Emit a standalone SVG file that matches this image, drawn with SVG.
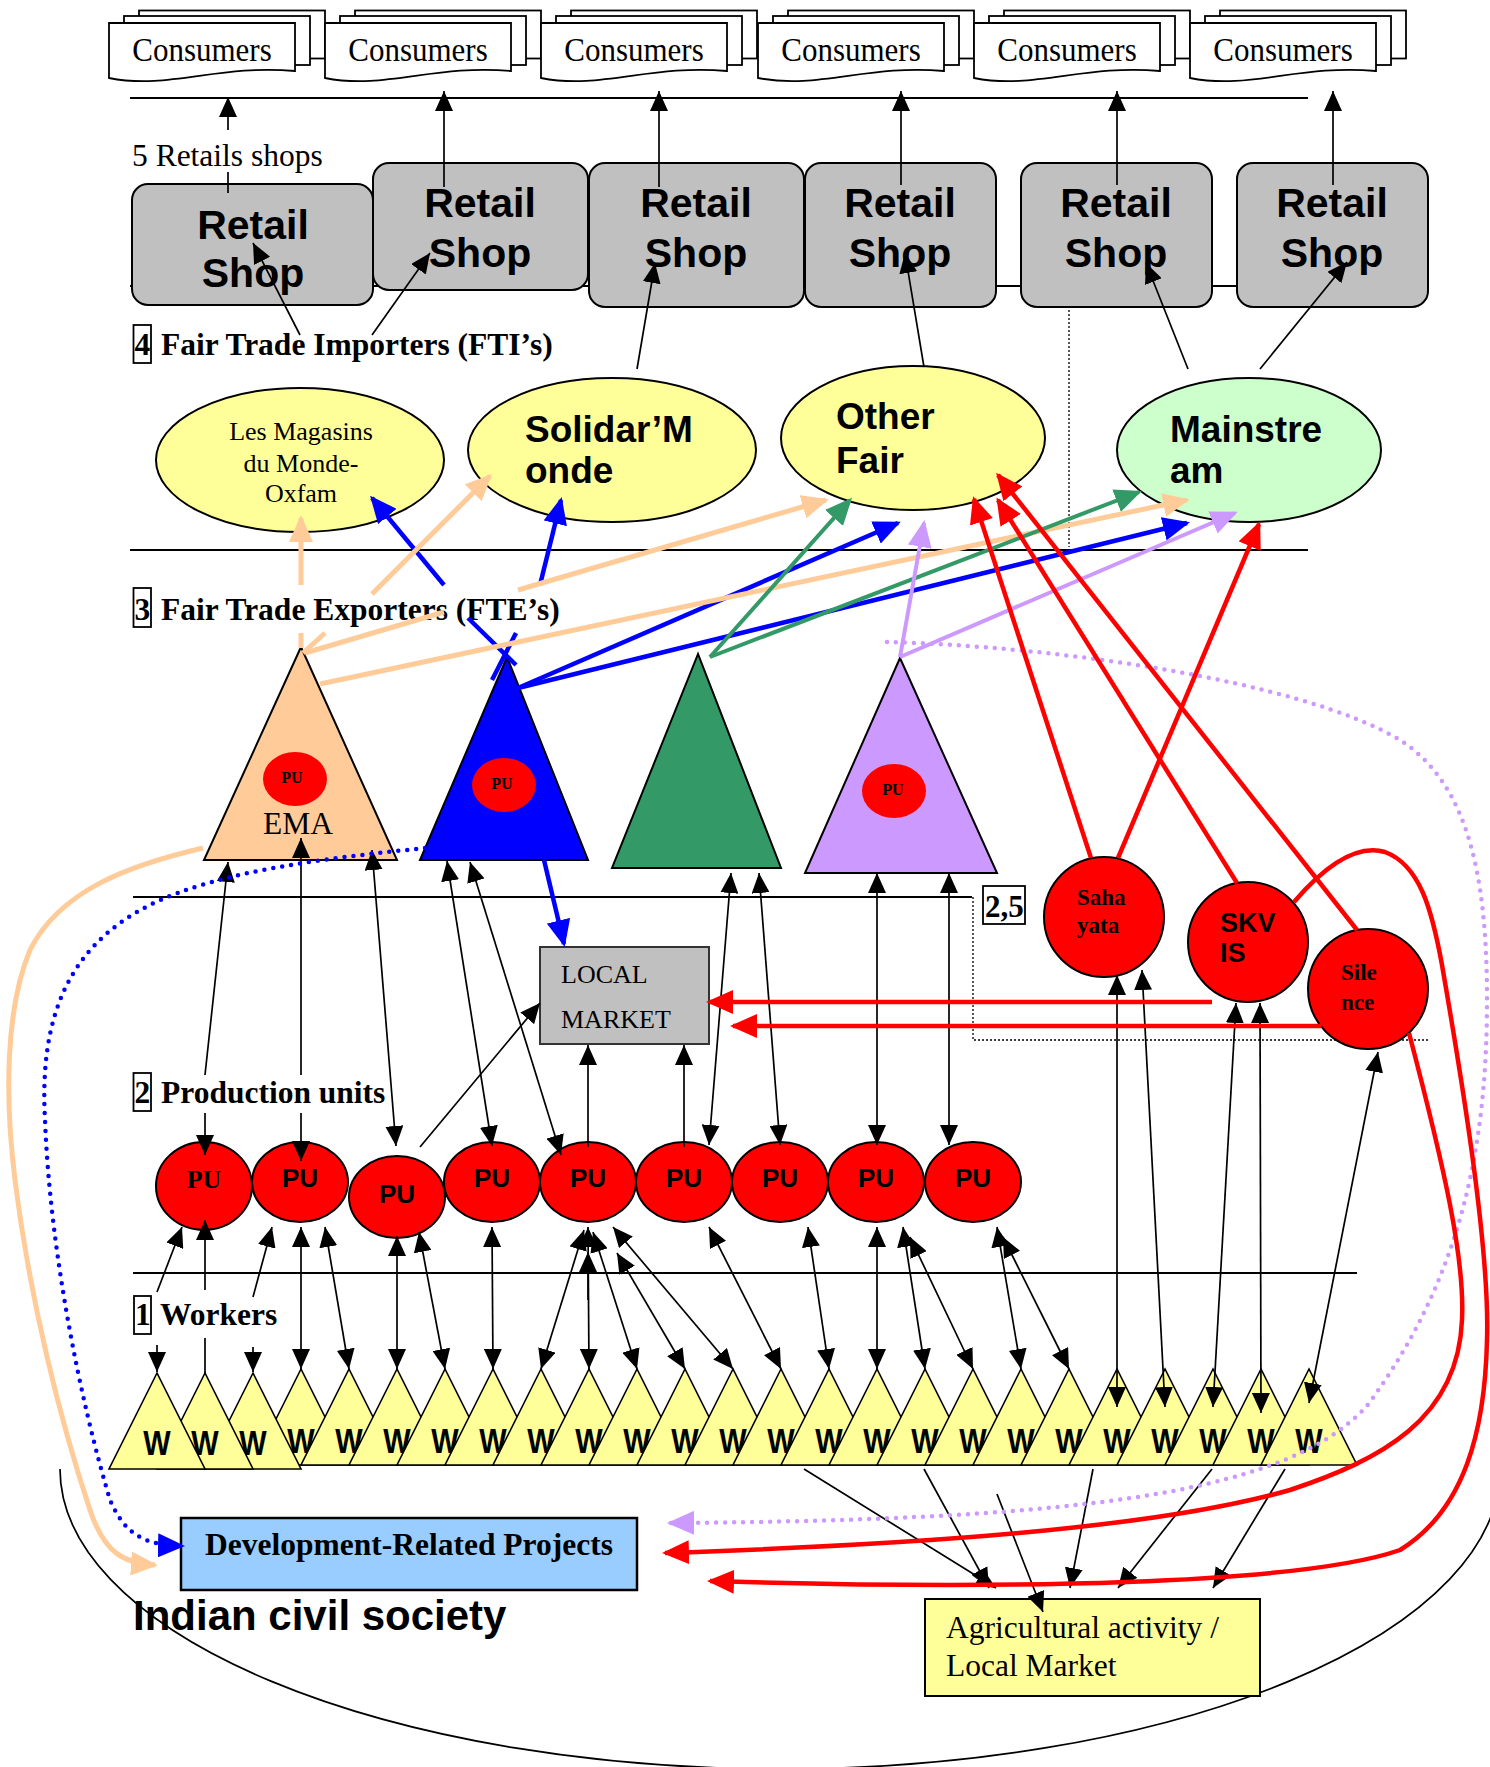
<svg xmlns="http://www.w3.org/2000/svg" width="1490" height="1767" viewBox="0 0 1490 1767">
<style>
.sep{stroke:#000;stroke-width:2;fill:none}
.dl{stroke:#000;stroke-width:1.3;stroke-dasharray:2 2;fill:none}
.ln{stroke:#000;stroke-width:1.7;fill:none}
.b{stroke:#0000ff;stroke-width:4.5;fill:none}
.p{stroke:#ffcc99;stroke-width:5;fill:none}
.g{stroke:#339966;stroke-width:4;fill:none}
.v{stroke:#cc99ff;stroke-width:4;fill:none}
.r{stroke:#ff0000;stroke-width:4.5;fill:none}
.bd{stroke:#0000ff;stroke-width:4.5;fill:none;stroke-dasharray:0 9;stroke-linecap:round}
.vd{stroke:#cc99ff;stroke-width:4.5;fill:none;stroke-dasharray:0 9;stroke-linecap:round}
.se{font-family:"Liberation Serif","Times New Roman",serif;fill:#000}
.sb{font-family:"Liberation Serif","Times New Roman",serif;font-weight:bold;fill:#000}
.sa{font-family:"Liberation Sans",Arial,sans-serif;font-weight:bold;fill:#000}
.doc{fill:#fff;stroke:#000;stroke-width:1.8}
.shop{fill:#c0c0c0;stroke:#000;stroke-width:2}
.pu{fill:#ff0000;stroke:#000;stroke-width:2}
.w{fill:#ffff99;stroke:#000;stroke-width:1.6}
.wt{font-family:"Liberation Sans",Arial,sans-serif;font-weight:bold;fill:#000;font-size:29px;text-anchor:middle}
.lbl{fill:#fff;stroke:#000;stroke-width:1.8}
.fti{fill:#ffff99;stroke:#000;stroke-width:2}
</style>
<defs>
<marker id="a" viewBox="0 0 20 18" refX="20" refY="9" markerWidth="20" markerHeight="18" markerUnits="userSpaceOnUse" orient="auto-start-reverse"><path d="M0,0L20,9L0,18z" fill="#000"/></marker>
<marker id="mb" viewBox="0 0 27 24" refX="24" refY="12" markerWidth="27" markerHeight="24" markerUnits="userSpaceOnUse" orient="auto"><path d="M0,0L27,12L0,24z" fill="#0000ff"/></marker>
<marker id="mp" viewBox="0 0 27 24" refX="24" refY="12" markerWidth="27" markerHeight="24" markerUnits="userSpaceOnUse" orient="auto"><path d="M0,0L27,12L0,24z" fill="#ffcc99"/></marker>
<marker id="mg" viewBox="0 0 27 24" refX="24" refY="12" markerWidth="27" markerHeight="24" markerUnits="userSpaceOnUse" orient="auto"><path d="M0,0L27,12L0,24z" fill="#339966"/></marker>
<marker id="mv" viewBox="0 0 27 24" refX="24" refY="12" markerWidth="27" markerHeight="24" markerUnits="userSpaceOnUse" orient="auto"><path d="M0,0L27,12L0,24z" fill="#cc99ff"/></marker>
<marker id="mr" viewBox="0 0 27 24" refX="24" refY="12" markerWidth="27" markerHeight="24" markerUnits="userSpaceOnUse" orient="auto"><path d="M0,0L27,12L0,24z" fill="#ff0000"/></marker>
<g id="docshape">
<rect x="30" y="10.5" width="186" height="48" class="doc"/>
<rect x="15" y="16" width="186" height="49" class="doc"/>
<path d="M0,23H186V71C110,64 60,90 0,78Z" class="doc"/>
</g>
</defs>
<rect width="1490" height="1767" fill="#fff"/>

<g id="separators">
<line x1="130" y1="98" x2="1308" y2="98" class="sep"/>
<line x1="130" y1="286" x2="1237" y2="286" class="sep"/>
<line x1="130" y1="550" x2="1308" y2="550" class="sep"/>
<line x1="133" y1="897" x2="972" y2="897" class="sep"/>
<line x1="133" y1="1273" x2="1357" y2="1273" class="sep"/>
<line x1="1069" y1="282" x2="1069" y2="547" class="dl"/>
<polyline points="973,897 973,1040 1428,1040" class="dl"/>
<path d="M60,1469 A720,300 0 0 0 1500,1469" class="ln" stroke-width="1.5"/>
</g>

<g id="consumers-1" transform="translate(109,0)"><use href="#docshape"/><text transform="translate(93,61) scale(1,1.12)" text-anchor="middle" class="se" font-size="31">Consumers</text></g>
<g id="consumers-2" transform="translate(325,0)"><use href="#docshape"/><text transform="translate(93,61) scale(1,1.12)" text-anchor="middle" class="se" font-size="31">Consumers</text></g>
<g id="consumers-3" transform="translate(541,0)"><use href="#docshape"/><text transform="translate(93,61) scale(1,1.12)" text-anchor="middle" class="se" font-size="31">Consumers</text></g>
<g id="consumers-4" transform="translate(758,0)"><use href="#docshape"/><text transform="translate(93,61) scale(1,1.12)" text-anchor="middle" class="se" font-size="31">Consumers</text></g>
<g id="consumers-5" transform="translate(974,0)"><use href="#docshape"/><text transform="translate(93,61) scale(1,1.12)" text-anchor="middle" class="se" font-size="31">Consumers</text></g>
<g id="consumers-6" transform="translate(1190,0)"><use href="#docshape"/><text transform="translate(93,61) scale(1,1.12)" text-anchor="middle" class="se" font-size="31">Consumers</text></g>

<g id="retail-1"><rect x="132" y="184" width="241" height="121" rx="16" class="shop"/><text x="253" y="239" text-anchor="middle" class="sa" font-size="41">Retail</text><text x="253" y="287" text-anchor="middle" class="sa" font-size="41">Shop</text></g>
<g id="retail-2"><rect x="373" y="163" width="215" height="127" rx="16" class="shop"/><text x="480" y="217" text-anchor="middle" class="sa" font-size="41">Retail</text><text x="480" y="267" text-anchor="middle" class="sa" font-size="41">Shop</text></g>
<g id="retail-3"><rect x="589" y="163" width="215" height="144" rx="16" class="shop"/><text x="696" y="217" text-anchor="middle" class="sa" font-size="41">Retail</text><text x="696" y="267" text-anchor="middle" class="sa" font-size="41">Shop</text></g>
<g id="retail-4"><rect x="805" y="163" width="191" height="144" rx="16" class="shop"/><text x="900" y="217" text-anchor="middle" class="sa" font-size="41">Retail</text><text x="900" y="267" text-anchor="middle" class="sa" font-size="41">Shop</text></g>
<g id="retail-5"><rect x="1021" y="163" width="191" height="144" rx="16" class="shop"/><text x="1116" y="217" text-anchor="middle" class="sa" font-size="41">Retail</text><text x="1116" y="267" text-anchor="middle" class="sa" font-size="41">Shop</text></g>
<g id="retail-6"><rect x="1237" y="163" width="191" height="144" rx="16" class="shop"/><text x="1332" y="217" text-anchor="middle" class="sa" font-size="41">Retail</text><text x="1332" y="267" text-anchor="middle" class="sa" font-size="41">Shop</text></g>

<g id="labels">
<text x="132" y="166" class="se" font-size="31.5">5 Retails shops</text>
<rect x="133.5" y="325" width="17.5" height="38" class="lbl"/><text x="134.5" y="355" class="sb" font-size="31.5">4</text><text x="161" y="355" class="sb" font-size="31.5">Fair Trade Importers (FTI’s)</text>
<rect x="133.5" y="588" width="17.5" height="39" class="lbl"/><text x="134.5" y="620" class="sb" font-size="31.5">3</text><text x="161" y="620" class="sb" font-size="31.5">Fair Trade Exporters (FTE’s)</text>
<rect x="133.5" y="1073" width="17.5" height="38" class="lbl"/><text x="134.5" y="1103" class="sb" font-size="31.5">2</text><text x="161" y="1103" class="sb" font-size="31.5">Production units</text>
<rect x="134" y="1296" width="17" height="38" class="lbl"/><text x="135" y="1325" class="sb" font-size="31.5">1</text><text x="160" y="1325" class="sb" font-size="31.5">Workers</text>
<rect x="983" y="886" width="42" height="38" class="lbl"/><text x="985" y="917" class="sb" font-size="31">2,5</text>
<text x="133" y="1630" class="sa" font-size="42">Indian civil society</text>
</g>

<g id="fti-magasins"><ellipse cx="300" cy="460" rx="144" ry="72" class="fti"/><text x="301" y="440" text-anchor="middle" class="se" font-size="26">Les Magasins</text><text x="301" y="472" text-anchor="middle" class="se" font-size="26">du Monde-</text><text x="301" y="502" text-anchor="middle" class="se" font-size="26">Oxfam</text></g>
<g id="fti-solidar"><ellipse cx="612" cy="450" rx="144" ry="72" class="fti"/><text x="525" y="442" class="sa" font-size="37">Solidar’M</text><text x="525" y="483" class="sa" font-size="37">onde</text></g>
<g id="fti-otherfair"><ellipse cx="913" cy="438" rx="132" ry="72" class="fti"/><text x="836" y="429" class="sa" font-size="37">Other</text><text x="836" y="473" class="sa" font-size="37">Fair</text></g>
<g id="fti-mainstream"><ellipse cx="1249" cy="450" rx="132" ry="72" fill="#ccffcc" stroke="#000" stroke-width="2"/><text x="1170" y="442" class="sa" font-size="37">Mainstre</text><text x="1170" y="483" class="sa" font-size="37">am</text></g>

<g id="fte-ema"><polygon points="301,647 204,860 397,860" fill="#ffcc99" stroke="#000" stroke-width="2"/><ellipse cx="295" cy="779" rx="32" ry="27" fill="#ff0000"/><text x="292" y="783" text-anchor="middle" class="sb" font-size="16">PU</text><text x="298" y="834" text-anchor="middle" class="se" font-size="31.5">EMA</text></g>
<g id="fte-blue"><polygon points="507,657 420,860 588,860" fill="#0000ff" stroke="#000" stroke-width="2"/><ellipse cx="504" cy="785" rx="32" ry="27" fill="#ff0000"/><text x="502" y="789" text-anchor="middle" class="sb" font-size="16">PU</text></g>
<g id="fte-green"><polygon points="698,654 612,868 781,868" fill="#339966" stroke="#000" stroke-width="2"/></g>
<g id="fte-purple"><polygon points="900,658 805,873 997,873" fill="#cc99ff" stroke="#000" stroke-width="2"/><ellipse cx="894" cy="791" rx="32" ry="27" fill="#ff0000"/><text x="893" y="795" text-anchor="middle" class="sb" font-size="16">PU</text></g>

<g id="org-sahayata"><circle cx="1104" cy="917" r="60" class="pu"/><text x="1077" y="905" class="sb" font-size="23">Saha</text><text x="1077" y="933" class="sb" font-size="23">yata</text></g>
<g id="org-skvis"><circle cx="1248" cy="942" r="60" class="pu"/><text x="1220" y="932" class="sa" font-size="27">SKV</text><text x="1220" y="962" class="sa" font-size="27">IS</text></g>
<g id="org-silence"><circle cx="1368" cy="989" r="60" class="pu"/><text x="1341" y="980" class="sb" font-size="23">Sile</text><text x="1341" y="1010" class="sb" font-size="23">nce</text></g>

<g id="local-market"><rect x="540" y="947" width="169" height="97" fill="#c0c0c0" stroke="#333" stroke-width="2"/><text x="561" y="983" class="se" font-size="26" fill="#222">LOCAL</text><text x="561" y="1028" class="se" font-size="26" fill="#222">MARKET</text></g>

<g id="pu-1"><ellipse cx="204" cy="1186" rx="48" ry="44" class="pu"/><text x="204" y="1188" text-anchor="middle" class="sb" font-size="26">PU</text></g>
<g id="pu-2"><ellipse cx="300" cy="1182" rx="48" ry="40" class="pu"/><text x="300" y="1187" text-anchor="middle" class="sa" font-size="26">PU</text></g>
<g id="pu-3"><ellipse cx="397" cy="1197" rx="48" ry="41" class="pu"/><text x="397" y="1203" text-anchor="middle" class="sa" font-size="26">PU</text></g>
<g id="pu-4"><ellipse cx="492" cy="1182" rx="48" ry="40" class="pu"/><text x="492" y="1187" text-anchor="middle" class="sa" font-size="26">PU</text></g>
<g id="pu-5"><ellipse cx="588" cy="1182" rx="48" ry="40" class="pu"/><text x="588" y="1187" text-anchor="middle" class="sa" font-size="26">PU</text></g>
<g id="pu-6"><ellipse cx="684" cy="1182" rx="48" ry="40" class="pu"/><text x="684" y="1187" text-anchor="middle" class="sa" font-size="26">PU</text></g>
<g id="pu-7"><ellipse cx="780" cy="1182" rx="48" ry="40" class="pu"/><text x="780" y="1187" text-anchor="middle" class="sa" font-size="26">PU</text></g>
<g id="pu-8"><ellipse cx="876" cy="1182" rx="48" ry="40" class="pu"/><text x="876" y="1187" text-anchor="middle" class="sa" font-size="26">PU</text></g>
<g id="pu-9"><ellipse cx="973" cy="1182" rx="48" ry="40" class="pu"/><text x="973" y="1187" text-anchor="middle" class="sa" font-size="26">PU</text></g>

<g id="workers">
<g id="w-4"><polygon points="301,1369 253,1465 349,1465" class="w"/><text transform="translate(301,1453) scale(1,1.2)" class="wt">W</text></g>
<g id="w-5"><polygon points="349,1369 301,1465 397,1465" class="w"/><text transform="translate(349,1453) scale(1,1.2)" class="wt">W</text></g>
<g id="w-6"><polygon points="397,1369 349,1465 445,1465" class="w"/><text transform="translate(397,1453) scale(1,1.2)" class="wt">W</text></g>
<g id="w-7"><polygon points="445,1369 397,1465 493,1465" class="w"/><text transform="translate(445,1453) scale(1,1.2)" class="wt">W</text></g>
<g id="w-8"><polygon points="493,1369 445,1465 541,1465" class="w"/><text transform="translate(493,1453) scale(1,1.2)" class="wt">W</text></g>
<g id="w-9"><polygon points="541,1369 493,1465 589,1465" class="w"/><text transform="translate(541,1453) scale(1,1.2)" class="wt">W</text></g>
<g id="w-10"><polygon points="589,1369 541,1465 637,1465" class="w"/><text transform="translate(589,1453) scale(1,1.2)" class="wt">W</text></g>
<g id="w-11"><polygon points="637,1369 589,1465 685,1465" class="w"/><text transform="translate(637,1453) scale(1,1.2)" class="wt">W</text></g>
<g id="w-12"><polygon points="685,1369 637,1465 733,1465" class="w"/><text transform="translate(685,1453) scale(1,1.2)" class="wt">W</text></g>
<g id="w-13"><polygon points="733,1369 685,1465 781,1465" class="w"/><text transform="translate(733,1453) scale(1,1.2)" class="wt">W</text></g>
<g id="w-14"><polygon points="781,1369 733,1465 829,1465" class="w"/><text transform="translate(781,1453) scale(1,1.2)" class="wt">W</text></g>
<g id="w-15"><polygon points="829,1369 781,1465 877,1465" class="w"/><text transform="translate(829,1453) scale(1,1.2)" class="wt">W</text></g>
<g id="w-16"><polygon points="877,1369 829,1465 925,1465" class="w"/><text transform="translate(877,1453) scale(1,1.2)" class="wt">W</text></g>
<g id="w-17"><polygon points="925,1369 877,1465 973,1465" class="w"/><text transform="translate(925,1453) scale(1,1.2)" class="wt">W</text></g>
<g id="w-18"><polygon points="973,1369 925,1465 1021,1465" class="w"/><text transform="translate(973,1453) scale(1,1.2)" class="wt">W</text></g>
<g id="w-19"><polygon points="1021,1369 973,1465 1069,1465" class="w"/><text transform="translate(1021,1453) scale(1,1.2)" class="wt">W</text></g>
<g id="w-20"><polygon points="1069,1369 1021,1465 1117,1465" class="w"/><text transform="translate(1069,1453) scale(1,1.2)" class="wt">W</text></g>
<g id="w-21"><polygon points="1117,1369 1069,1465 1165,1465" class="w"/><text transform="translate(1117,1453) scale(1,1.2)" class="wt">W</text></g>
<g id="w-22"><polygon points="1165,1369 1117,1465 1213,1465" class="w"/><text transform="translate(1165,1453) scale(1,1.2)" class="wt">W</text></g>
<g id="w-23"><polygon points="1213,1369 1165,1465 1261,1465" class="w"/><text transform="translate(1213,1453) scale(1,1.2)" class="wt">W</text></g>
<g id="w-24"><polygon points="1261,1369 1213,1465 1309,1465" class="w"/><text transform="translate(1261,1453) scale(1,1.2)" class="wt">W</text></g>
<g id="w-25"><polygon points="1309,1369 1261,1465 1357,1465" class="w"/><text transform="translate(1309,1453) scale(1,1.2)" class="wt">W</text></g>
<g id="w-3"><polygon points="253,1373 205,1469 301,1469" class="w"/><text transform="translate(253,1455) scale(1,1.2)" class="wt">W</text></g>
<g id="w-2"><polygon points="205,1373 157,1469 253,1469" class="w"/><text transform="translate(205,1455) scale(1,1.2)" class="wt">W</text></g>
<g id="w-1"><polygon points="157,1373 109,1469 205,1469" class="w"/><text transform="translate(157,1455) scale(1,1.2)" class="wt">W</text></g>
</g>

<g id="dev-projects"><rect x="181" y="1518" width="456" height="72" fill="#99ccff" stroke="#000" stroke-width="2.5"/><text x="409" y="1555" text-anchor="middle" class="sb" font-size="31.5">Development-Related Projects</text></g>
<g id="agri"><rect x="925" y="1599" width="335" height="97" fill="#ffff99" stroke="#000" stroke-width="2"/><text x="946" y="1638" class="se" font-size="31.5">Agricultural activity /</text><text x="946" y="1676" class="se" font-size="31.5">Local Market</text></g>

<g id="connectors">
<g class="ln">
<line x1="228" y1="193" x2="228" y2="172"/>
<line x1="228" y1="130" x2="228" y2="97" marker-end="url(#a)"/>
<line x1="444" y1="187" x2="444" y2="91" marker-end="url(#a)"/>
<line x1="659" y1="187" x2="659" y2="91" marker-end="url(#a)"/>
<line x1="901" y1="185" x2="901" y2="91" marker-end="url(#a)"/>
<line x1="1117" y1="185" x2="1117" y2="91" marker-end="url(#a)"/>
<line x1="1333" y1="185" x2="1333" y2="91" marker-end="url(#a)"/>
<line x1="300" y1="335" x2="253" y2="243" marker-end="url(#a)"/>
<line x1="372" y1="335" x2="430" y2="253" marker-end="url(#a)"/>
<line x1="637" y1="369" x2="655" y2="263" marker-end="url(#a)"/>
<line x1="924" y1="367" x2="905" y2="253" marker-end="url(#a)"/>
<line x1="1188" y1="369" x2="1146" y2="263" marker-end="url(#a)"/>
<line x1="1260" y1="369" x2="1347" y2="262" marker-end="url(#a)"/>

<line x1="205" y1="1075" x2="228" y2="862" marker-end="url(#a)"/>
<line x1="205" y1="1113" x2="205" y2="1155" marker-end="url(#a)"/>
<line x1="301" y1="1075" x2="301" y2="838" marker-end="url(#a)"/>
<line x1="301" y1="1113" x2="301" y2="1161" marker-end="url(#a)"/>
<line x1="372" y1="850" x2="396" y2="1146" marker-start="url(#a)" marker-end="url(#a)"/>
<line x1="447" y1="861" x2="492" y2="1146" marker-start="url(#a)" marker-end="url(#a)"/>
<line x1="470" y1="862" x2="561" y2="1155" marker-start="url(#a)" marker-end="url(#a)"/>
<line x1="420" y1="1147" x2="540" y2="1003" marker-end="url(#a)"/>
<line x1="588" y1="1147" x2="588" y2="1045" marker-end="url(#a)"/>
<line x1="684" y1="1147" x2="684" y2="1045" marker-end="url(#a)"/>
<line x1="731" y1="873" x2="709" y2="1145" marker-start="url(#a)" marker-end="url(#a)"/>
<line x1="759" y1="873" x2="780" y2="1145" marker-start="url(#a)" marker-end="url(#a)"/>
<line x1="877" y1="873" x2="877" y2="1145" marker-start="url(#a)" marker-end="url(#a)"/>
<line x1="949" y1="873" x2="949" y2="1145" marker-start="url(#a)" marker-end="url(#a)"/>

<line x1="157" y1="1292" x2="182" y2="1227" marker-end="url(#a)"/>
<line x1="157" y1="1345" x2="157" y2="1372" marker-end="url(#a)"/>
<line x1="205" y1="1373" x2="205" y2="1338"/>
<line x1="205" y1="1290" x2="205" y2="1220" marker-end="url(#a)"/>
<line x1="253" y1="1297" x2="272" y2="1227" marker-end="url(#a)"/>
<line x1="253" y1="1347" x2="253" y2="1372" marker-end="url(#a)"/>
<line x1="301" y1="1227" x2="301" y2="1369" marker-start="url(#a)" marker-end="url(#a)"/>
<line x1="325" y1="1227" x2="349" y2="1369" marker-start="url(#a)" marker-end="url(#a)"/>
<line x1="397" y1="1236" x2="397" y2="1369" marker-start="url(#a)" marker-end="url(#a)"/>
<line x1="419" y1="1232" x2="445" y2="1369" marker-start="url(#a)" marker-end="url(#a)"/>
<line x1="492" y1="1227" x2="493" y2="1369" marker-start="url(#a)" marker-end="url(#a)"/>
<line x1="584" y1="1230" x2="541" y2="1369" marker-start="url(#a)" marker-end="url(#a)"/>
<line x1="588" y1="1227" x2="589" y2="1369" marker-start="url(#a)" marker-end="url(#a)"/>
<line x1="588" y1="1300" x2="588" y2="1252" marker-end="url(#a)"/>
<line x1="593" y1="1232" x2="637" y2="1369" marker-start="url(#a)" marker-end="url(#a)"/>
<line x1="617" y1="1253" x2="685" y2="1369" marker-start="url(#a)" marker-end="url(#a)"/>
<line x1="613" y1="1227" x2="733" y2="1369" marker-start="url(#a)" marker-end="url(#a)"/>
<line x1="709" y1="1227" x2="781" y2="1369" marker-start="url(#a)" marker-end="url(#a)"/>
<line x1="808" y1="1227" x2="829" y2="1369" marker-start="url(#a)" marker-end="url(#a)"/>
<line x1="877" y1="1227" x2="877" y2="1369" marker-start="url(#a)" marker-end="url(#a)"/>
<line x1="903" y1="1227" x2="925" y2="1369" marker-start="url(#a)" marker-end="url(#a)"/>
<line x1="910" y1="1237" x2="973" y2="1369" marker-start="url(#a)" marker-end="url(#a)"/>
<line x1="997" y1="1227" x2="1021" y2="1369" marker-start="url(#a)" marker-end="url(#a)"/>
<line x1="1003" y1="1237" x2="1069" y2="1369" marker-start="url(#a)" marker-end="url(#a)"/>

<line x1="1117" y1="975" x2="1117" y2="1407" marker-start="url(#a)" marker-end="url(#a)"/>
<line x1="1142" y1="970" x2="1165" y2="1407" marker-start="url(#a)" marker-end="url(#a)"/>
<line x1="1236" y1="1003" x2="1213" y2="1407" marker-start="url(#a)" marker-end="url(#a)"/>
<line x1="1260" y1="1003" x2="1261" y2="1413" marker-start="url(#a)" marker-end="url(#a)"/>
<line x1="1378" y1="1052" x2="1309" y2="1403" marker-start="url(#a)" marker-end="url(#a)"/>

<line x1="804" y1="1469" x2="996" y2="1588" marker-end="url(#a)"/>
<line x1="924" y1="1469" x2="989" y2="1588" marker-end="url(#a)"/>
<line x1="997" y1="1494" x2="1043" y2="1612" marker-end="url(#a)"/>
<line x1="1093" y1="1469" x2="1070" y2="1588" marker-end="url(#a)"/>
<line x1="1212" y1="1469" x2="1118" y2="1588" marker-end="url(#a)"/>
<line x1="1285" y1="1469" x2="1213" y2="1588" marker-end="url(#a)"/>
</g>

<g id="blue-arrows">
<line x1="444" y1="585" x2="372" y2="498" class="b" marker-end="url(#mb)"/>
<line x1="468" y1="618" x2="516" y2="665" class="b"/>
<line x1="540" y1="585" x2="561" y2="500" class="b" marker-end="url(#mb)"/>
<line x1="516" y1="633" x2="492" y2="680" class="b"/>
<line x1="518" y1="688" x2="898" y2="523" class="b" marker-end="url(#mb)"/>
<line x1="518" y1="688" x2="1187" y2="523" class="b" marker-end="url(#mb)"/>
<line x1="544" y1="860" x2="564" y2="944" class="b" marker-end="url(#mb)"/>
</g>
<g id="peach-arrows">
<line x1="301" y1="648" x2="301" y2="633" class="p"/>
<line x1="301" y1="585" x2="301" y2="518" class="p" marker-end="url(#mp)"/>
<line x1="303" y1="653" x2="325" y2="633" class="p"/>
<line x1="372" y1="594" x2="490" y2="476" class="p" marker-end="url(#mp)"/>
<line x1="305" y1="653" x2="444" y2="612" class="p"/>
<line x1="518" y1="590" x2="826" y2="500" class="p" marker-end="url(#mp)"/>
<line x1="320" y1="684" x2="1187" y2="500" class="p" marker-end="url(#mp)"/>
<path d="M203,848 C130,865 60,890 30,950 C5,1010 5,1100 15,1180 C30,1300 60,1420 90,1510 C105,1555 125,1563 155,1565" class="p" marker-end="url(#mp)"/>
</g>
<g id="green-arrows">
<line x1="710" y1="657" x2="850" y2="500" class="g" marker-end="url(#mg)"/>
<line x1="710" y1="657" x2="1139" y2="492" class="g" marker-end="url(#mg)"/>
</g>
<g id="purple-arrows">
<line x1="900" y1="657" x2="924" y2="523" class="v" marker-end="url(#mv)"/>
<line x1="900" y1="657" x2="1235" y2="513" class="v" marker-end="url(#mv)"/>
<path d="M887,642 C1050,646 1300,680 1400,740 C1470,785 1487,880 1487,1000 C1487,1150 1460,1280 1367,1406 C1290,1490 1100,1520 670,1523" class="vd" marker-end="url(#mv)"/>
</g>
<g id="blue-dotted">
<path d="M425,848 C330,858 220,870 150,905 C60,950 40,1030 45,1120 C50,1250 80,1400 110,1500 C125,1535 145,1545 182,1546" class="bd" marker-end="url(#mb)"/>
</g>
<g id="red-arrows">
<line x1="1091" y1="858" x2="974" y2="499" class="r" marker-end="url(#mr)"/>
<line x1="1118" y1="858" x2="1259" y2="524" class="r" marker-end="url(#mr)"/>
<line x1="1237" y1="883" x2="998" y2="500" class="r" marker-end="url(#mr)"/>
<line x1="1357" y1="930" x2="998" y2="475" class="r" marker-end="url(#mr)"/>
<line x1="1212" y1="1002" x2="709" y2="1002" class="r" marker-end="url(#mr)"/>
<line x1="1321" y1="1026" x2="733" y2="1026" class="r" marker-end="url(#mr)"/>
<path d="M1409,1033 C1445,1170 1465,1260 1462,1320 C1458,1420 1380,1460 1290,1490 C1150,1530 900,1545 665,1553" class="r" marker-end="url(#mr)"/>
<path d="M1294,902 C1330,860 1360,845 1385,852 C1420,865 1432,910 1442,965 C1462,1080 1490,1250 1487,1340 C1485,1430 1465,1510 1400,1550 C1300,1585 1000,1590 710,1581" class="r" marker-end="url(#mr)"/>
</g>
</g>
</svg>
